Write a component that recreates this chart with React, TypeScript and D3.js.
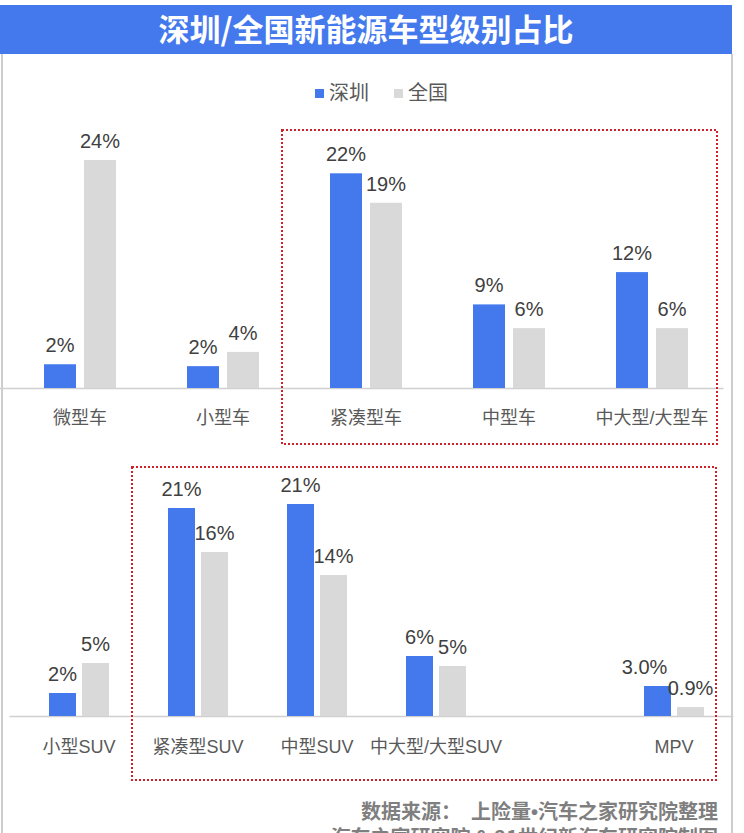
import { useEffect, useRef } from "react";
import { select, scaleBand, scaleLinear } from "d3";

const series = ["深圳", "全国"];

const carCats = ["微型车", "小型车", "紧凑型车", "中型车", "中大型/大型车"];
const carSz = [2.5, 2.3, 22.6, 8.8, 12.2];
const carCn = [24.0, 3.8, 19.5, 6.3, 6.3];
const carSzLabels = ["2%", "2%", "22%", "9%", "12%"];
const carCnLabels = ["24%", "4%", "19%", "6%", "6%"];

const suvCats = ["小型SUV", "紧凑型SUV", "中型SUV", "中大型/大型SUV", "", "MPV"];
const suvSz = [2.3, 20.8, 21.2, 6.0, null, 3.0];
const suvCn = [5.3, 16.4, 14.1, 5.0, null, 0.9];
const suvSzLabels = ["2%", "21%", "21%", "6%", "", "3.0%"];
const suvCnLabels = ["5%", "16%", "14%", "5%", "", "0.9%"];

const colors = ["#4479EE", "#D9D9D9"];
const FONT = "'Liberation Sans', Arial, 'Noto Sans CJK SC', sans-serif";
const CJK = "'Noto Sans CJK SC', 'Liberation Sans', sans-serif";

const W = 744;
const H = 833;

const drawGroup = (
  svg: any,
  cats: string[],
  vals: (number | null)[][],
  labels: string[][],
  cfg: {
    x: [number, number];
    base: number;
    max: number;
    top: number;
    pair: number;
    gap: number;
    catY: number;
    nudge: Record<string, number>;
  }
) => {
  const step = (cfg.x[1] - cfg.x[0]) / cats.length;
  const p = 1 - cfg.pair / step;
  const x0 = scaleBand<string>()
    .domain(cats)
    .range(cfg.x)
    .paddingInner(p)
    .paddingOuter(p / 2);
  const bw = (cfg.pair - cfg.gap) / 2;
  const x1 = scaleBand<string>()
    .domain(series)
    .range([0, x0.bandwidth()])
    .paddingInner(1 - bw / (cfg.pair - bw));
  const y = scaleLinear().domain([0, cfg.max]).range([cfg.base, cfg.top]);

  const g = svg.append("g");

  // axis line
  g.append("line")
    .attr("x1", cfg.x[0] - 10)
    .attr("x2", cfg.x[1])
    .attr("y1", cfg.base + 0.5)
    .attr("y2", cfg.base + 0.5)
    .attr("stroke", "#D0D0D0")
    .attr("stroke-width", 1.5);

  series.forEach((s, si) => {
    cats.forEach((c, ci) => {
      const v = vals[si][ci];
      if (v == null) return;
      const bx = (x0(c) ?? 0) + (x1(s) ?? 0);
      g.append("rect")
        .attr("x", bx)
        .attr("y", y(v / 100))
        .attr("width", x1.bandwidth())
        .attr("height", cfg.base - y(v / 100))
        .attr("fill", colors[si]);
      g.append("text")
        .attr("x", bx + x1.bandwidth() / 2 + (cfg.nudge[c + "-" + s] ?? 0))
        .attr("y", y(v / 100) - 12)
        .attr("text-anchor", "middle")
        .attr("font-family", FONT)
        .attr("font-size", 20)
        .attr("fill", "#404040")
        .text(labels[si][ci]);
    });
  });

  g.selectAll("text.cat")
    .data(cats)
    .join("text")
    .attr("class", "cat")
    .attr("x", (d: string) => (x0(d) ?? 0) + x0.bandwidth() / 2)
    .attr("y", cfg.catY)
    .attr("text-anchor", "middle")
    .attr("font-family", FONT)
    .attr("font-size", 18)
    .attr("fill", "#595959")
    .text((d: string) => d);
};

const drawChart = (ref: SVGSVGElement) => {
  const svg = select(ref);
  svg.selectAll("*").remove();

  svg.append("rect").attr("width", W).attr("height", H).attr("fill", "#fff");

  // title band
  svg.append("rect")
    .attr("x", 0)
    .attr("y", 5)
    .attr("width", 732)
    .attr("height", 49)
    .attr("fill", "#4479EE");
  svg.append("text")
    .attr("x", 366)
    .attr("y", 41)
    .attr("text-anchor", "middle")
    .attr("font-family", CJK)
    .attr("font-weight", 700)
    .attr("font-size", 31)
    .attr("fill", "#fff")
    .text("深圳/全国新能源车型级别占比");

  // panel borders
  [2, 732].forEach((bx) =>
    svg.append("line")
      .attr("x1", bx)
      .attr("x2", bx)
      .attr("y1", 54)
      .attr("y2", H)
      .attr("stroke", "#BDBDBD")
      .attr("stroke-width", 1.5)
  );

  // legend
  const legX = [315, 394];
  series.forEach((s, i) => {
    svg.append("rect")
      .attr("x", legX[i])
      .attr("y", 89)
      .attr("width", 9)
      .attr("height", 9)
      .attr("fill", colors[i]);
    svg.append("text")
      .attr("x", legX[i] + 14)
      .attr("y", 100)
      .attr("font-family", CJK)
      .attr("font-size", 20)
      .attr("fill", "#595959")
      .text(s);
  });

  drawGroup(svg, carCats, [carSz, carCn], [carSzLabels, carCnLabels], {
    x: [8.5, 723.5],
    base: 388,
    max: 0.25,
    top: 150.5,
    pair: 72,
    gap: 8,
    catY: 424,
    nudge: {},
  });

  drawGroup(svg, suvCats, [suvSz, suvCn], [suvSzLabels, suvCnLabels], {
    x: [19.5, 733.5],
    base: 716,
    max: 0.22,
    top: 496,
    pair: 60,
    gap: 6,
    catY: 753,
    nudge: { "MPV-深圳": -13 },
  });

  // highlight boxes
  const boxes = [
    [282, 130, 717, 444],
    [132, 467, 716, 780],
  ];
  boxes.forEach(([a, b, c, d]) =>
    svg.append("rect")
      .attr("x", a)
      .attr("y", b)
      .attr("width", c - a)
      .attr("height", d - b)
      .attr("fill", "none")
      .attr("stroke", "#D0202A")
      .attr("stroke-width", 2)
      .attr("stroke-dasharray", "2,2")
  );

  // source
  const src = svg.append("text")
    .attr("x", 718)
    .attr("y", 819)
    .attr("text-anchor", "end")
    .attr("font-family", CJK)
    .attr("font-weight", 700)
    .attr("font-size", 20)
    .attr("fill", "#7F7F7F");
  src.append("tspan").text("数据来源：\u2002上险量");
  src.append("tspan").attr("font-family", FONT).text("•");
  src.append("tspan").text("汽车之家研究院整理");

  svg.append("text")
    .attr("x", 718)
    .attr("y", 845)
    .attr("text-anchor", "end")
    .attr("font-family", CJK)
    .attr("font-weight", 700)
    .attr("font-size", 20)
    .attr("fill", "#7F7F7F")
    .text("汽车之家研究院 & 21世纪新汽车研究院制图");
};

export default function App() {
  const ref = useRef<SVGSVGElement>(null);

  useEffect(() => {
    if (ref.current) drawChart(ref.current);
  }, []);

  return (
    <div style={{ position: "absolute", left: 0, top: 0 }}>
      <svg ref={ref} width={W} height={H} style={{ display: "block" }}></svg>
    </div>
  );
}
